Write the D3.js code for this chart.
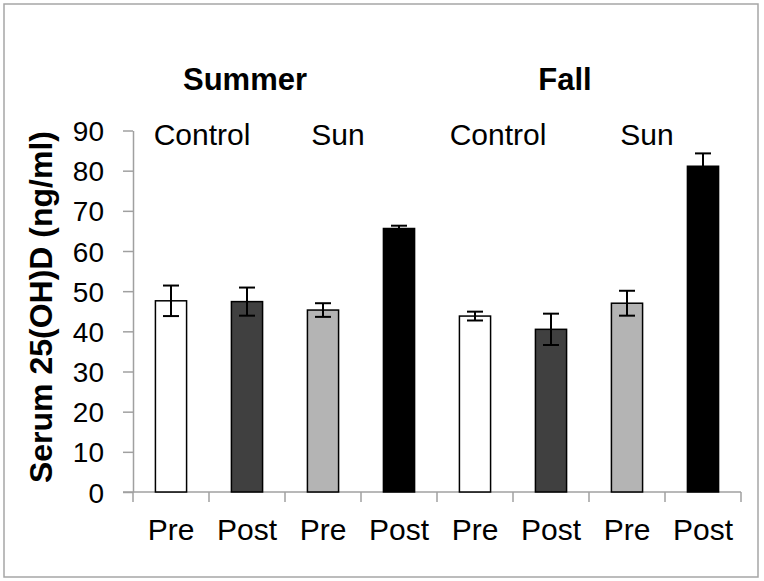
<!DOCTYPE html>
<html><head><meta charset="utf-8">
<script src="https://cdn.jsdelivr.net/npm/d3@7"></script>
<style>body{margin:0;background:#fff}svg{display:block}text{font-family:"Liberation Sans",Arial,sans-serif;fill:#000}</style>
</head><body>
<script>
const categories = ["Summer Control Pre","Summer Control Post","Summer Sun Pre","Summer Sun Post","Fall Control Pre","Fall Control Post","Fall Sun Pre","Fall Sun Post"];
const tickLabels = ["Pre","Post","Pre","Post","Pre","Post","Pre","Post"];
const means = [47.6, 47.4, 45.3, 65.6, 43.8, 40.5, 47.0, 81.1];
const errors = [3.8, 3.5, 1.7, 0.7, 1.1, 3.9, 3.1, 3.2];
const fills = ["#ffffff","#404040","#b4b4b4","#000000","#ffffff","#404040","#b4b4b4","#000000"];
const yTicks = [0,10,20,30,40,50,60,70,80,90];
const seasons = ["Summer","Fall"];
const groups = ["Control","Sun","Control","Sun"];

(function(){
const W = 764, H = 581;
const svg = d3.select("body").append("svg").attr("width", W).attr("height", H);
svg.append("rect").attr("x",4).attr("y",4).attr("width",754).attr("height",573)
  .attr("fill","#fff").attr("stroke","#a6a6a6").attr("stroke-width",1.5);

const pL = 133, pR = 741, pT = 130.5, pB = 492;
const x = d3.scaleBand().domain(categories).range([pL, pR]).paddingInner(0.59).paddingOuter(0.295);
const xb = d3.scaleBand().domain(categories).range([pL, pR]);
const y = d3.scaleLinear().domain([0, 90]).range([pB, pT]);
const axisColor = "#a0a0a0";

// Y axis
const yAxis = svg.append("g").attr("transform", `translate(${pL},0)`)
  .call(d3.axisLeft(y).tickValues(yTicks).tickSize(10).tickPadding(19).tickSizeOuter(0));
yAxis.select(".domain").attr("stroke", axisColor).attr("stroke-width",1.5);
yAxis.selectAll(".tick line").attr("stroke", axisColor).attr("stroke-width",1.5);
yAxis.selectAll(".tick text").attr("font-size", 28).attr("fill","#000").attr("dy","0.36em")
  .style("font-family","'Liberation Sans',Arial,sans-serif");

// X axis line and boundary ticks
svg.append("line").attr("x1", pL-10).attr("x2", pR).attr("y1", pB).attr("y2", pB)
  .attr("stroke", axisColor).attr("stroke-width",1.5);
const bounds = categories.map(c => xb(c)).concat([pR]);
svg.selectAll(".xt").data(bounds).join("line").attr("class","xt")
  .attr("x1", d=>d).attr("x2", d=>d).attr("y1", pB).attr("y2", pB+10)
  .attr("stroke", axisColor).attr("stroke-width",1.5);
svg.selectAll(".xl").data(categories).join("text").attr("class","xl")
  .attr("x", c => xb(c) + xb.bandwidth()/2).attr("y", 540).attr("text-anchor","middle")
  .attr("font-size", 30).text((c,i) => tickLabels[i]);

// Bars
svg.selectAll(".bar").data(categories).join("rect").attr("class","bar")
  .attr("x", c => x(c)).attr("width", x.bandwidth())
  .attr("y", (c,i) => y(means[i])).attr("height", (c,i) => pB - y(means[i]))
  .attr("fill", (c,i) => fills[i]).attr("stroke","#000").attr("stroke-width",1.5);

// Error bars
const eb = svg.selectAll(".eb").data(categories).join("g").attr("class","eb");
eb.append("line").attr("x1", c => x(c)+x.bandwidth()/2).attr("x2", c => x(c)+x.bandwidth()/2)
  .attr("y1", (c,i) => y(means[i]+errors[i])).attr("y2", (c,i) => y(means[i]-errors[i]))
  .attr("stroke","#000").attr("stroke-width",2);
[1,-1].forEach(s => {
  eb.append("line").attr("x1", c => x(c)+x.bandwidth()/2-8).attr("x2", c => x(c)+x.bandwidth()/2+8)
    .attr("y1", (c,i) => y(means[i]+s*errors[i])).attr("y2", (c,i) => y(means[i]+s*errors[i]))
    .attr("stroke","#000").attr("stroke-width",2);
});

// Season headers
const seasonOffsets = [-40, -24];
svg.selectAll(".season").data(seasons).join("text").attr("class","season")
  .attr("x", (d,i) => (xb(categories[4*i]) + xb(categories[4*i+3]) + xb.bandwidth())/2 + seasonOffsets[i])
  .attr("y", 90).attr("text-anchor","middle").attr("font-size",31).attr("font-weight","bold").text(d=>d);

// Group labels
const groupOffsets = [-7, -23, -15, -18];
svg.selectAll(".grp").data(groups).join("text").attr("class","grp")
  .attr("x", (d,i) => xb(categories[2*i]) + xb.bandwidth() + groupOffsets[i])
  .attr("y", 145).attr("text-anchor","middle").attr("font-size",30).text(d=>d);

// Y label
svg.append("text").attr("transform","translate(52,307) rotate(-90)")
  .attr("text-anchor","middle").attr("font-size",32).attr("font-weight","bold")
  .text("Serum 25(OH)D (ng/ml)");
})();
</script>
</body></html>
